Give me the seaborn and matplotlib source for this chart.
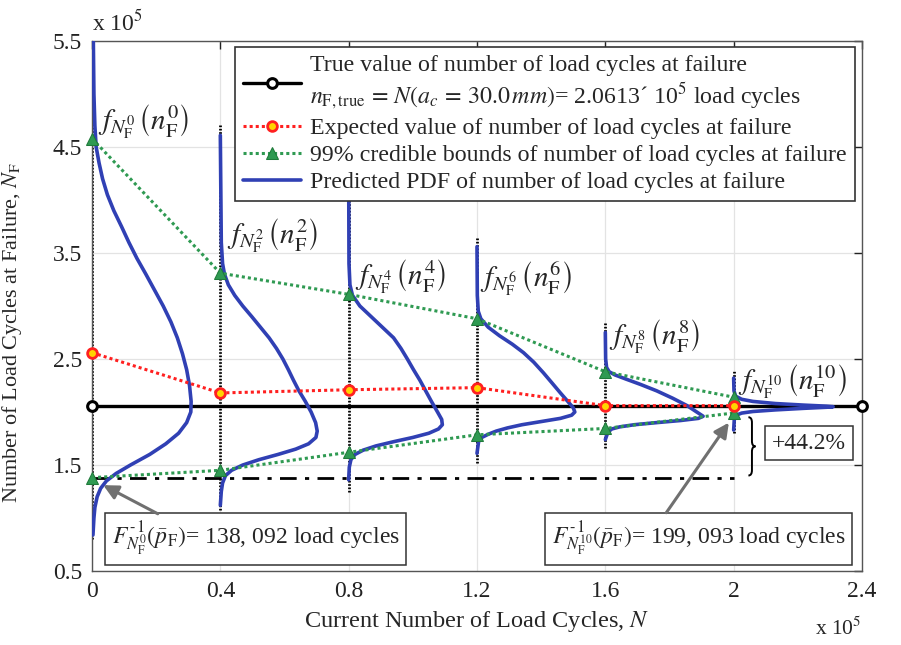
import numpy as np
import pandas as pd
import matplotlib
matplotlib.use("Agg")
import matplotlib.pyplot as plt
from matplotlib.path import Path
from matplotlib.patches import PathPatch
import seaborn as sns

# ---- data (cycles in units of 1e5) ----
stage_cycles = [0.0, 0.4, 0.8, 1.2, 1.6, 2.0]
expected_nf = [2.56, 2.18, 2.21, 2.23, 2.06, 2.06]
upper_bound_nf = [4.58, 3.31, 3.11, 2.88, 2.38, 2.14]
lower_bound_nf = [1.38092, 1.45, 1.62, 1.785, 1.845, 1.99093]
true_nf = 2.0613
true_x = [0.0, 2.4]

# sample spread (vertical dotted stems) at each stage
stem_low = [0.80, 1.08, 1.25, 1.52, 1.66, 1.80]
stem_high = [5.55, 4.71, 4.35, 3.65, 2.84, 2.40]

# predicted PDFs: N_F value and scaled density (drawn to the right of each stage)
pdf0_nf = [5.55, 5.00, 4.70, 4.50, 4.35, 4.20, 4.05, 3.90, 3.75, 3.60, 3.45, 3.30, 3.15,
           3.00, 2.85, 2.70, 2.55, 2.40, 2.25, 2.10, 2.00, 1.90, 1.80, 1.70, 1.60, 1.50,
           1.42, 1.35, 1.28, 1.20, 1.10, 1.00, 0.84]
pdf0_w = [0.004, 0.006, 0.009, 0.013, 0.022, 0.033, 0.048, 0.068, 0.092, 0.115, 0.140,
          0.168, 0.195, 0.222, 0.246, 0.266, 0.282, 0.295, 0.304, 0.309, 0.308, 0.295,
          0.270, 0.230, 0.180, 0.120, 0.075, 0.045, 0.027, 0.016, 0.009, 0.006, 0.003]
pdf2_nf = [4.61, 3.60, 3.40, 3.30, 3.20, 3.10, 3.00, 2.90, 2.80, 2.70, 2.60, 2.50, 2.40,
           2.30, 2.20, 2.10, 2.00, 1.90, 1.82, 1.76, 1.70, 1.65, 1.60, 1.55, 1.50, 1.45,
           1.40, 1.33, 1.25, 1.12]
pdf2_w = [0.0, 0.003, 0.007, 0.013, 0.025, 0.045, 0.070, 0.098, 0.125, 0.152, 0.175,
          0.195, 0.212, 0.228, 0.245, 0.265, 0.283, 0.297, 0.302, 0.298, 0.275, 0.235,
          0.180, 0.120, 0.070, 0.035, 0.016, 0.007, 0.003, 0.0]
pdf4_nf = [4.35, 3.40, 3.20, 3.10, 3.00, 2.90, 2.80, 2.70, 2.60, 2.50, 2.40, 2.30, 2.20,
           2.10, 2.00, 1.93, 1.88, 1.84, 1.80, 1.76, 1.72, 1.68, 1.64, 1.60, 1.55, 1.48, 1.36]
pdf4_w = [0.0, 0.001, 0.004, 0.012, 0.035, 0.070, 0.105, 0.140, 0.163, 0.183, 0.202,
          0.222, 0.240, 0.258, 0.277, 0.290, 0.292, 0.280, 0.250, 0.200, 0.140, 0.085,
          0.045, 0.020, 0.007, 0.002, 0.0]
pdf6_nf = [3.56, 3.10, 2.95, 2.88, 2.80, 2.72, 2.64, 2.56, 2.47, 2.37, 2.27, 2.18, 2.10,
           2.04, 2.00, 1.97, 1.94, 1.91, 1.88, 1.85, 1.82, 1.79, 1.76, 1.72, 1.61]
pdf6_w = [0.0, 0.001, 0.004, 0.012, 0.035, 0.070, 0.110, 0.145, 0.177, 0.207, 0.235,
          0.260, 0.283, 0.300, 0.305, 0.295, 0.260, 0.200, 0.140, 0.095, 0.060, 0.035,
          0.015, 0.005, 0.0]
pdf8_nf = [2.75, 2.50, 2.42, 2.38, 2.35, 2.31, 2.26, 2.20, 2.13, 2.06, 2.00, 1.96, 1.94,
           1.92, 1.90, 1.88, 1.86, 1.84, 1.81, 1.74]
pdf8_w = [0.0, 0.001, 0.004, 0.012, 0.030, 0.065, 0.110, 0.160, 0.210, 0.255, 0.285,
          0.305, 0.290, 0.235, 0.160, 0.090, 0.045, 0.020, 0.008, 0.0]
pdf10_nf = [2.32, 2.20, 2.15, 2.12, 2.10, 2.08, 2.065, 2.055, 2.05, 2.045, 2.035, 2.02,
            2.005, 1.99, 1.97, 1.93, 1.83]
pdf10_w = [0.0, 0.001, 0.006, 0.025, 0.060, 0.130, 0.220, 0.290, 0.310, 0.290, 0.220,
           0.130, 0.060, 0.025, 0.008, 0.002, 0.0]
pdf_nf = [pdf0_nf, pdf2_nf, pdf4_nf, pdf6_nf, pdf8_nf, pdf10_nf]
pdf_w = [pdf0_w, pdf2_w, pdf4_w, pdf6_w, pdf8_w, pdf10_w]
pdf_stage_idx = [0, 2, 4, 6, 8, 10]

x_ticks = [0.0, 0.4, 0.8, 1.2, 1.6, 2.0, 2.4]
x_tick_labels = ["0", "0.4", "0.8", "1.2", "1.6", "2", "2.4"]
y_ticks = [0.5, 1.5, 2.5, 3.5, 4.5, 5.5]
y_tick_labels = ["0.5", "1.5", "2.5", "3.5", "4.5", "5.5"]

# ---- style ----
sns.set_style("white")
plt.rcParams["font.family"] = ["Liberation Serif", "DejaVu Serif"]
plt.rcParams["mathtext.fontset"] = "stix"

BLUE = "#3040b4"
GREEN = "#2f9a52"
RED = "#ff2020"

fig = plt.figure(figsize=(9.01, 6.45), dpi=100)
ax = fig.add_axes([0.1021, 0.1147, 0.8546, 0.8217])

ax.set_xlim(0, 2.4)
ax.set_ylim(0.5, 5.5)
ax.set_xticks(x_ticks)
ax.set_xticklabels(x_tick_labels)
ax.set_yticks(y_ticks)
ax.set_yticklabels(y_tick_labels)
ax.grid(True, color="#e3e3e3", lw=0.9, zorder=0)
ax.set_axisbelow(True)
ax.tick_params(direction="in", length=6, width=1, top=True, right=True,
               labelsize=17, colors="#222222", pad=7)
for sp in ax.spines.values():
    sp.set_color("#555555")
    sp.set_linewidth(1.0)

# sample stems
for xs, lo, hi in zip(stage_cycles, stem_low, stem_high):
    ax.plot([xs, xs], [lo, hi], color="black", lw=2.0,
            linestyle=(0, (0.6, 0.6)), zorder=2, clip_on=True)

# true value line
sns.lineplot(x=true_x, y=[true_nf, true_nf], ax=ax, color="black", lw=2.4,
             marker="o", markersize=7, markerfacecolor="white",
             markeredgecolor="black", markeredgewidth=2.2, clip_on=False,
             estimator=None, sort=False, zorder=3,
             label="True value of number of load cycles at failure\n"
                   r"$n_{\mathrm{F,true}}\,=\,N\left(a_c\,=\,30.0\,mm\right)$= 2.0613´ 10$^5$ load cycles")

# lower-quantile level at the first stage
ax.plot([0.0, 2.0], [lower_bound_nf[0], lower_bound_nf[0]], color="black", lw=2.0,
        linestyle=(0, (6, 3, 1.5, 3)), zorder=3)

# predicted PDFs
for i, (xs, nf, w) in enumerate(zip(stage_cycles, pdf_nf, pdf_w)):
    sns.lineplot(x=np.asarray(w) + xs, y=nf, ax=ax, color=BLUE, lw=2.6,
                 estimator=None, sort=False, zorder=4,
                 label="Predicted PDF of number of load cycles at failure" if i == 0 else None)

# credible bounds
sns.lineplot(x=stage_cycles, y=upper_bound_nf, ax=ax, color=GREEN, lw=2.2,
             linestyle=(0, (1, 1)), marker="^", markersize=8,
             markerfacecolor=GREEN, markeredgecolor="#1f7a3a", clip_on=False,
             estimator=None, sort=False, zorder=5,
             label="99% credible bounds of number of load cycles at failure")
sns.lineplot(x=stage_cycles, y=lower_bound_nf, ax=ax, color=GREEN, lw=2.2,
             linestyle=(0, (1, 1)), marker="^", markersize=8,
             markerfacecolor=GREEN, markeredgecolor="#1f7a3a", clip_on=False,
             estimator=None, sort=False, zorder=5)

# expected value
sns.lineplot(x=stage_cycles, y=expected_nf, ax=ax, color=RED, lw=2.2,
             linestyle=(0, (1, 1)), marker="o", markersize=7,
             markerfacecolor="#ffd400", markeredgecolor=RED, markeredgewidth=2,
             clip_on=False, estimator=None, sort=False, zorder=6,
             label="Expected value of number of load cycles at failure")

# PDF labels
label_pos = [(0.02, 4.74), (0.42, 3.66), (0.82, 3.28), (1.21, 3.26), (1.612, 2.71), (2.012, 2.29)]
for k, (lx, ly) in zip(pdf_stage_idx, label_pos):
    ax.text(lx, ly, r"$f_{N_{\mathrm{F}}^{%d}}\,\left(n_{\mathrm{F}}^{%d}\right)$" % (k, k),
            fontsize=21, ha="left", va="center", zorder=7)

# legend
h, l = ax.get_legend_handles_labels()
order = [l.index(s) for s in [
    l[0],
    "Expected value of number of load cycles at failure",
    "99% credible bounds of number of load cycles at failure",
    "Predicted PDF of number of load cycles at failure"]]
leg = ax.legend([h[i] for i in order], [l[i] for i in order],
                loc="upper right", bbox_to_anchor=(0.991, 0.989),
                fontsize=17.2, frameon=True, fancybox=False, framealpha=1,
                edgecolor="#333333", handlelength=2.4, handletextpad=0.4,
                labelspacing=0.22, borderpad=0.35, borderaxespad=0.0)
leg.get_frame().set_linewidth(1.2)
leg.set_zorder(10)

# quantile annotations
box = dict(boxstyle="square,pad=0.28", fc="white", ec="#333333", lw=1.1)
arrow = dict(arrowstyle="-|>", color="#707070", lw=2.2, mutation_scale=22,
             shrinkA=0, shrinkB=0)
first_q = lower_bound_nf[0]
last_q = lower_bound_nf[-1]
ax.text(0.51, 0.80, r"$F_{N_{\mathrm{F}}^{0}}^{\text{-}\,1}\left(\bar{p}_{\mathrm{F}}\right)$= "
        + f"{first_q * 1e5:,.0f} load cycles".replace(",", ", "),
        fontsize=17, ha="center", va="center", bbox=box, zorder=8)
ax.annotate("", xy=(0.035, 1.31), xytext=(0.205, 1.04), arrowprops=arrow, zorder=8)
ax.text(1.89, 0.80, r"$F_{N_{\mathrm{F}}^{10}}^{\text{-}\,1}\left(\bar{p}_{\mathrm{F}}\right)$= "
        + f"{last_q * 1e5:,.0f} load cycles".replace(",", ", "),
        fontsize=17, ha="center", va="center", bbox=box, zorder=8)
ax.annotate("", xy=(1.985, 1.90), xytext=(1.79, 1.05), arrowprops=arrow, zorder=8)

# brace spanning the two quantiles
bx0, bdx = 2.046, 0.022
y0, y1 = first_q + 0.02, last_q - 0.04
ym = 0.5 * (y0 + y1)
r = 0.05
xa = bx0 + 0.5 * bdx
verts = [(bx0, y1), (xa, y1), (xa, y1 - r),
         (xa, ym + r),
         (xa, ym), (bx0 + bdx, ym),
         (xa, ym), (xa, ym - r),
         (xa, y0 + r),
         (xa, y0), (bx0, y0)]
codes = [Path.MOVETO, Path.CURVE3, Path.CURVE3,
         Path.LINETO,
         Path.CURVE3, Path.CURVE3,
         Path.CURVE3, Path.CURVE3,
         Path.LINETO,
         Path.CURVE3, Path.CURVE3]
ax.add_patch(PathPatch(Path(verts, codes), fc="none", ec="black", lw=1.4, zorder=8))
ax.text(2.235, ym + 0.03, f"+{(last_q - first_q) / first_q * 100:.1f}%", fontsize=17,
        ha="center", va="center", bbox=box, zorder=8)

# axis labels and scale markers
ax.set_xlabel(r"Current Number of Load Cycles, $N$", fontsize=17.5, labelpad=5)
ax.set_ylabel(r"Number of Load Cycles at Failure, $N_{\mathrm{F}}$", fontsize=16)
ax.yaxis.set_label_coords(-0.088, 0.45)
ax.text(0.0, 1.01, r"x 10$^5$", transform=ax.transAxes, fontsize=17, ha="left", va="bottom")
ax.text(1.0, -0.088, r"x 10$^5$", transform=ax.transAxes, fontsize=15.5, ha="right", va="top")

fig.savefig("out.png", dpi=100)
